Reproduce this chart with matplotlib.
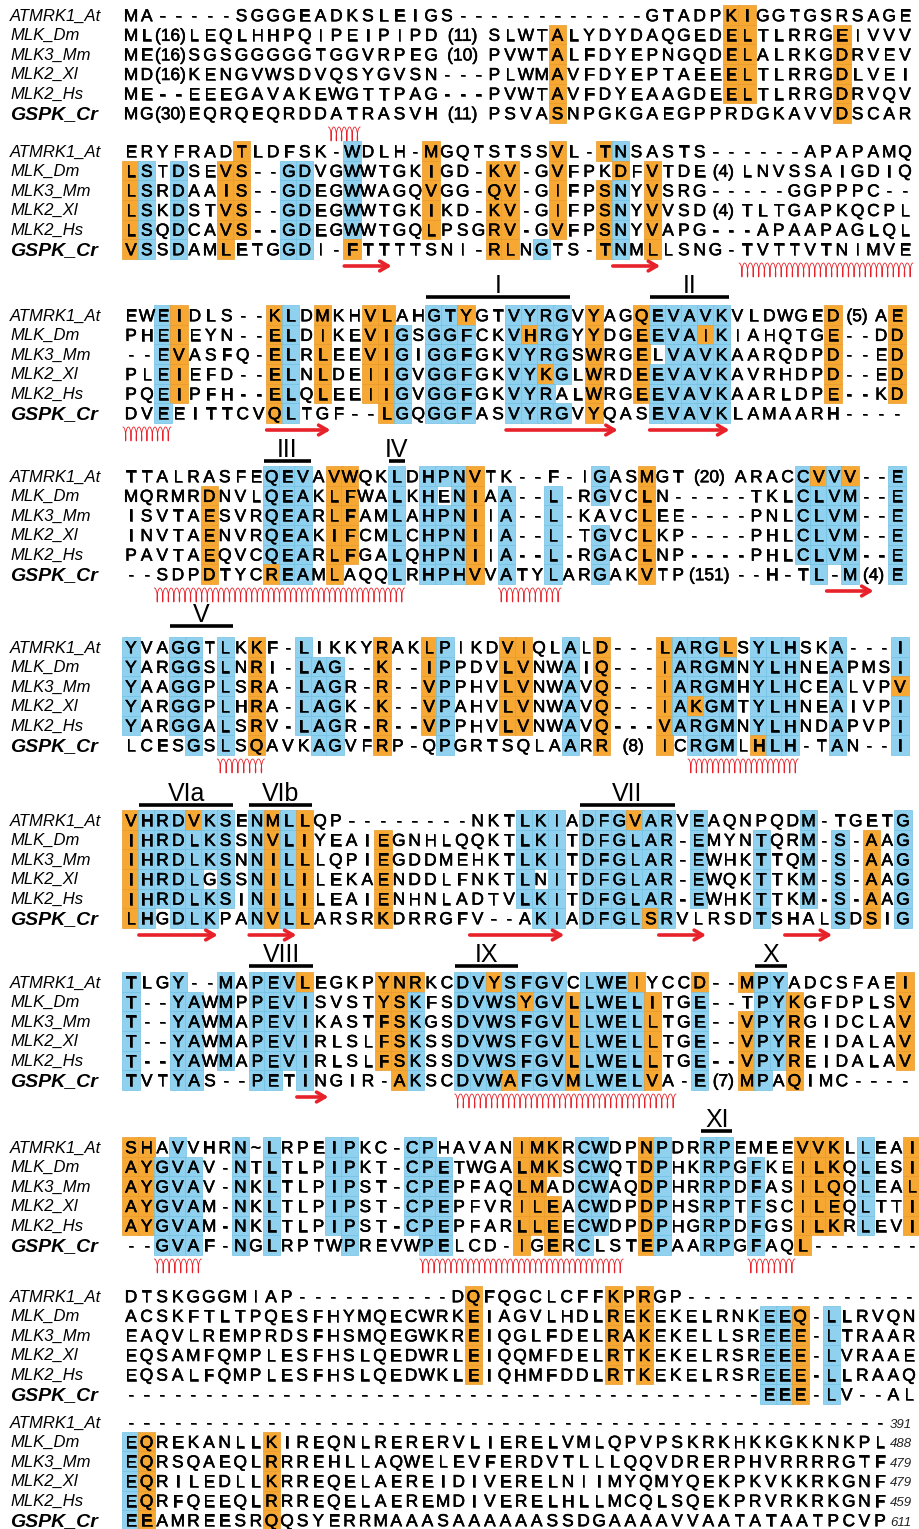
import numpy as np
import matplotlib
matplotlib.use('Agg')
import matplotlib.pyplot as plt
from matplotlib.patches import Rectangle
from matplotlib import font_manager
import matplotlib.patheffects as pe

# sequence names, one per row of every block
names = ['ATMRK1_At', 'MLK_Dm', 'MLK3_Mm', 'MLK2_Xl', 'MLK2_Hs', 'GSPK_Cr']

# alignment blocks: lowercase = identical (blue box), '*X' = similar (orange box),
# '(n)' = insertion, each '_' after it widens the insertion by one column
block1 = ['MA-----SGGGEADKSLEIGS------------GTADP*K*IGGTGSRSAGE',
          'ML(16)_LEQLHHPQIPEIPIPD(11)__SLWT*ALYDYDAQGED*E*LTLRRG*EIVVV',
          'ME(16)_SGSGGGGGTGGVRPEG(10)__PVWT*ALFDYEPNGQD*E*LALRKG*DRVEV',
          'MD(16)_KENGVWSDVQSYGVSN---PLWM*AVFDYEPTAEE*E*LTLRRG*DLVEI',
          'ME--EEEGAVAKEWGTTPAG---PVWT*AVFDYEAAGDE*E*LTLRRG*DRVQV',
          'MG(30)_EQRQEQRDDATRASVH(11)__PSVA*SNPGKGAEGPPRDGKAVV*DSCAR']
block2 = ['ERYFRAD*TLDFSK-wDLH-*MGQTSTSS*VL-*TnSASTS------APAPAMQ',
          '*LsTdSE*V*S--gdVGwWTGK*IGD-*K*V-G*VFPK*DF*VTDE(4)_LNVSSAIGDIQ',
          '*LsRdAA*I*S--gdEGwWAGQ*VGG-*Q*V-G*IFP*SnY*VSRG-----GGPPPC--',
          '*LsKdST*V*S--gdEGwWTGK*IKD-*K*V-G*IFP*SnY*VVSD(4)_TLTGAPKQCPL',
          '*LsQdCA*V*S--gdEGwWTGQ*LPSG*R*V-G*VFP*SnY*VAPG---APAAPAGLQL',
          '*VsSdAM*LETGgdI-*FTTTTSNI-*R*LNgTS-*TnM*LLSNG-TVTTVTNIMVE']
block3 = ['EWe*IDLS--*KlD*MKH*V*LAHgt*YGTvyrgV*YAG*QevavkVLDWGE*D(5)_A*E',
          'PHe*IEYN--*ElD*IKE*V*IgSggfCKv*HrgY*YDG*Eeva*IkIAHQTG*E--D*D',
          '--e*VASFQ-*ElR*LEE*V*IgIggfGKvyrgS*WRG*ELvavkAARQDP*D--E*D',
          'PLe*IEFD--*ElN*LDE*I*IgVggfGKvy*KgL*WRD*EevavkAVRHDP*D--E*D',
          'PQe*IPFH--*ElQ*LEE*I*IgVggfGKvyrAL*WRG*EevavkAARLDP*E--K*D',
          'DVeEITTCV*QlTGF--*LgQggfASvyrgV*YQASevavkLAMAARH----']
block4 = ['TTALRASFEqevA*V*WQKlDhpn*VTK--F-IgAS*MGT(20)__ARACc*Vv*V--e',
          'MQRMR*DNVLqeaK*L*FWAlKhEn*IAa--l-RgVC*LN-----TKLclvm--e',
          'ISVTA*ESVRqeaR*L*FAMlAhpn*IIa--l-KAVC*LEE----PNLclvm--e',
          'INVTA*ENVRqeaK*I*FCMlChpn*IIa--l-TgVC*LKP----PHLclvm--e',
          'PAVTA*EQVCqeaR*L*FGAlQhpn*IIa--l-RgAC*LNP----PHLclvm--e',
          '--SDP*DTYC*ReaM*LAQQlRhph*VVaTYlARgAK*VTP(151)__--H-Tl-m(4)_e']
block5 = ['yVAggTlK*KF-lIKKY*RAK*LpIKD*V*IQLaL*D---*Larg*LSylhSKa---i',
          'yARggSlN*RI-lag--*K--*IpPDV*L*VNWaI*Q---*IargmNylhNEaPMSi',
          'yAAggPlS*RA-lagR-*R--*VpPHV*L*VNWaV*Q---*IargmHylhCEaLVP*V',
          'yARggPlH*RA-lagK-*K--*VpAHV*L*VNWaV*Q---*Ia*KgmTylhNEaIVPi',
          'yARggAlS*RV-lagR-*R--*VpPHV*L*VNWaV*Q---*VargmNylhNDaPVPi',
          'LCESgSlS*QAVKagVF*RP-QpGRTSQLAaR*R(8)__*ICrgmL*Hlh-TaN--i']
block6 = ['*Vhrd*VksEn*Ml*LQP--------NKTlkiAdfg*VarVeAQNPQDm-TGETg',
          '*IhrdlksSn*Vl*IYEAI*EGNHLQQKTlkiTdfglar-eMYNtQRm-s-*AAg',
          '*IhrdlksNn*Il*LLQPI*EGDDMEHKTlkiTdfglar-eWHKtTQm-s-*AAg',
          '*IhrdlGsSn*Il*ILEKA*ENDDLFNKTlNiTdfglar-eWQKtTKm-s-*AAg',
          '*IhrdlksIn*Il*ILEAI*ENHNLADTVlkiTdfglar-eWHKtTKm-s-*AAg',
          '*LhGdlkPAn*Vl*LARSR*KDRRGFV--AkiAdfgl*SrVLRSDtSHALsD*SIg']
block7 = ['tLGy--mApev*LEGKP*Y*N*RKCdv*YsfgvClwe*IYCC*D--*MpyADCSFAE*I',
          't--yaWmPpeviSVST*Y*SkFSdvws*Ygv*Llwel*ITGe--Tpy*KGFDPLS*V',
          't--yaWmApeviKAST*F*SkGSdvwsfgv*Llwel*LTGe--*Vpy*RGIDCLA*V',
          't--yaWmApeviRLSL*F*SkSSdvwsfgv*Llwel*LTGe--*Vpy*REIDALA*V',
          't--yaWmApeviRLSL*F*SkSSdvwsfgv*Llwel*LTGe--*Vpy*REIDALA*V',
          'tVTyaS--peTiNGIR-*AkSCdvw*Afgv*Mlwel*VA-e(7)_*MpA*QIMC----']
block8 = ['*S*HAvVHRn~lRPEipKC-cpHAVAN*I*M*KRcwDP*NpDRrpEMEE*V*V*KLlEA*I',
          '*A*YgvaV-nTlTLPipKT-cpeTWGA*L*M*KScwQT*DpHKrpGfKE*I*L*KQlES*I',
          '*A*YgvaV-nKlTLPipST-cpePFAQ*L*MADcwAQ*DpHRrpDfAS*I*L*QQlEA*L',
          '*A*YgvaM-nKlTLPipST-cpePFVR*I*L*EAcwDP*DpHSrpTfSC*I*L*EQlTT*I',
          '*A*YgvaM-nKlTLPipST-cpePFAR*L*L*EEcwDP*DpHGrpDfGS*I*L*KRlEV*I',
          '--gvaF-nGlRPTWpREVWpeLCD-*IG*ERcLST*EpAArpGfAQ*L-------']
block9 = ['DTSKGGGMIAP----------D*QFQGCLCFF*KP*RGP---------------',
          'ACSKFTLTPQESFHYMQECWRK*EIAGVLHDL*RE*KEKELRNKee*Q-lLRVQN',
          'EAQVLREMPRDSFHSMQEGWKR*EIQGLFDEL*RA*KEKELLSRee*E-lTRAAR',
          'EQSAMFQMPLESFHSLQEDWRL*EIQQMFDEL*RT*KEKELRSRee*E-lVRAAE',
          'EQSALFQMPLESFHSLQEDWKL*EIQHMFDDL*RT*KEKELRSRee*E-lLRAAQ',
          '-----------------------------------------ee*E-lV--AL']
block10 = ['-------------------------------------------------',
           'e*QREKANLL*KIREQNLRERERVLIERELVMLQPVPSKRKHKKGKKNKPL',
           'e*QRSQAEQL*RRREHLLAQWELEVFERDVTLLLQQVDRERPHVRRRRGTF',
           'e*QRILEDLL*KRREQELAEREIDIVERELNIIMYQMYQEKPKVKKRKGNF',
           'e*QRFQEEQL*RRREQELAEREMDIVERELHLLMCQLSQEKPRVRKRKGNF',
           'e*EAMREESR*QQSYERRMAAASAAAAAASSDGAAAAVVAATATAATPCVP']
end_numbers = ['391', '488', '479', '479', '459', '611']

# conserved kinase subdomains: (label, block, first column, last column)
motifs = [('I', 2, 20, 28), ('II', 2, 34, 38), ('III', 3, 10, 12), ('IV', 3, 18, 18),
          ('V', 4, 4, 7), ('VIa', 5, 2, 7), ('VIb', 5, 9, 12), ('VII', 5, 30, 35),
          ('VIII', 6, 9, 12), ('IX', 6, 22, 25), ('X', 6, 41, 42), ('XI', 7, 38, 39)]
# GSPK secondary structure: beta strands and helices (block, first col, last col)
strands = [(1, 15, 17), (1, 32, 34), (2, 10, 13), (2, 25, 31), (2, 34, 38), (3, 46, 48),
           (5, 2, 6), (5, 9, 11), (5, 23, 28), (5, 35, 37), (5, 43, 45), (6, 12, 13)]
helices = [(0, 14, 15), (1, 40, 50), (2, 1, 3), (3, 3, 18), (3, 25, 28), (4, 7, 9),
           (4, 37, 43), (6, 22, 35), (7, 3, 5), (7, 20, 32), (7, 41, 43)]

blocks = [block1, block2, block3, block4, block5, block6, block7, block8, block9, block10]

# page layout (pixels)
block_top = [15, 151, 315, 476, 647, 820, 982, 1147, 1296, 1422]
block_right = [905, 905, 897, 897, 900, 903, 905, 912, 909, 880]
bar_y = {2: 297, 3: 461, 4: 626, 5: 805, 6: 966, 7: 1131}
x0 = 131
row_h = 19.6

ORANGE = '#F6A833'
BLUE = '#8FD1EE'
RED = '#E8222A'

avail = {f.name for f in font_manager.fontManager.ttflist}
seq_font = 'Liberation Sans Narrow' if 'Liberation Sans Narrow' in avail else 'Liberation Sans'
lab_font = 'Liberation Sans'
heavy = [pe.withStroke(linewidth=0.4, foreground='black')]


def parse(s):
    cells = []
    i = 0
    col = 0
    while i < len(s):
        ch = s[i]
        if ch == '*':
            cells.append((s[i + 1], col, 1, 'o'))
            col += 1
            i += 2
        elif ch == '(':
            j = s.index(')', i)
            tok = s[i:j + 1]
            i = j + 1
            n = 1
            while i < len(s) and s[i] == '_':
                n += 1
                i += 1
            cells.append((tok, col, n, None))
            col += n
        elif ch.islower():
            cells.append((ch.upper(), col, 1, 'b'))
            col += 1
            i += 1
        else:
            cells.append((ch, col, 1, None))
            col += 1
            i += 1
    return cells, col


def coil(ax, xa, xb, yc, h=14.0, per=5.6):
    n = max(2, int(round((xb - xa) / per)))
    t = np.linspace(0, 2 * np.pi * n, 80 * n)
    c = (xb - xa) / (2 * np.pi * n)
    ax.plot(xa + c * t + 1.6 * c * np.sin(t), yc - 0.5 * h * np.cos(t),
            color=RED, lw=0.6, solid_joinstyle='round')


fig = plt.figure(figsize=(9.2, 15.29), dpi=100)
ax = fig.add_axes([0, 0, 1, 1])
ax.set_xlim(0, 920)
ax.set_ylim(1529, 0)
ax.axis('off')

fs = 12.5
cap = 0.716 * fs * 100 / 72
pitches = []
for b, rows in enumerate(blocks):
    parsed = [parse(r) for r in rows]
    ncol = max(p[1] for p in parsed)
    pitch = (block_right[b] - x0) / (ncol - 1)
    pitches.append(pitch)
    for r, (cells, _) in enumerate(parsed):
        y = block_top[b] + r * row_h
        for tok, col, n, hl in cells:
            xc = x0 + (col + (n - 1) / 2) * pitch
            if hl:
                fc = ORANGE if hl == 'o' else BLUE
                ec = '#E89A2C' if hl == 'o' else '#72C2E4'
                ax.add_patch(Rectangle((xc - pitch / 2 - 0.8, y - row_h / 2), pitch + 1.6, row_h,
                                       facecolor=fc, edgecolor=ec, lw=0.5, zorder=1))
            ax.text(xc, y + cap / 2, tok, ha='center', va='baseline', fontsize=fs,
                    family=seq_font, color='black', zorder=3, path_effects=heavy)
        # sequence name
        if r == 5:
            ax.text(10, y + 6.5, names[r], ha='left', va='baseline', fontsize=14,
                    family=lab_font, style='italic', weight='bold')
        else:
            ax.text(10, y + 5.5, names[r], ha='left', va='baseline', fontsize=12,
                    family=lab_font, style='italic')
        if b == len(blocks) - 1:
            ax.text(block_right[b] + 10, y + 5.5, end_numbers[r], ha='left', va='baseline',
                    fontsize=9.5, family=lab_font, style='italic', color='#222222')

# subdomain bars and numerals
for label, b, c1, c2 in motifs:
    p = pitches[b]
    xl = x0 + (c1 - 1) * p - p / 2
    xr = x0 + (c2 - 1) * p + p / 2
    yb = bar_y[b]
    ax.plot([xl, xr], [yb, yb], color='black', lw=2.6, solid_capstyle='butt')
    ax.text((xl + xr) / 2, yb - 4, label, ha='center', va='baseline', fontsize=18,
            family=seq_font)

# beta strands under GSPK
for b, c1, c2 in strands:
    p = pitches[b]
    xl = x0 + (c1 - 1) * p - p / 2
    xr = x0 + (c2 - 1) * p + p / 2
    y = block_top[b] + 5 * row_h + 17
    ax.annotate('', xy=(xr, y), xytext=(xl, y),
                arrowprops=dict(arrowstyle='->,head_length=0.6,head_width=0.35',
                                color=RED, lw=2.6, shrinkA=0, shrinkB=0))

# helices under GSPK
for b, c1, c2 in helices:
    p = pitches[b]
    xl = x0 + (c1 - 1) * p - p / 2
    xr = x0 + (c2 - 1) * p + p / 2
    coil(ax, xl, xr, block_top[b] + 5 * row_h + 21)

fig.savefig('out.png', dpi=100)
